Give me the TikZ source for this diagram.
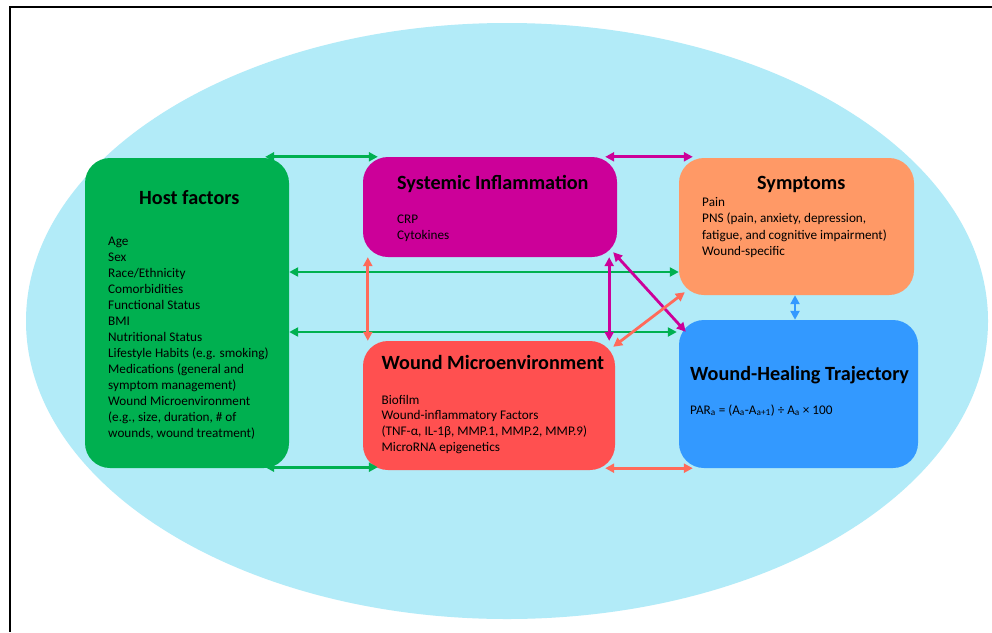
\documentclass[tikz,border=0pt]{standalone}
\usepackage{fontspec}
\setmainfont{Carlito}
\usetikzlibrary{arrows.meta,calc}
\definecolor{bgcyan}{HTML}{B2EBF8}
\definecolor{hostgreen}{HTML}{00B050}
\definecolor{simag}{HTML}{CC0099}
\definecolor{symorange}{HTML}{FF9966}
\definecolor{wmred}{HTML}{FF5050}
\definecolor{whtblue}{HTML}{3399FF}
\definecolor{salmon}{HTML}{FF6A5A}
\begin{document}
\begin{tikzpicture}[x=1pt,y=-1pt,
  box/.style={rounded corners=25pt, inner sep=0pt, draw=none},
  ttl/.style={font=\fontsize{20.2}{23}\selectfont\bfseries, inner sep=0pt, anchor=base west},
  body/.style={font=\fontsize{13.2}{16}\selectfont, inner sep=0pt, anchor=base west},
  arr/.style={line width=2.8pt, {Triangle[length=9pt,width=9pt]}-{Triangle[length=9pt,width=9pt]}}]
\useasboundingbox (0,0) rectangle (992,632);
\fill[white] (0,0) rectangle (992,632);
\fill[bgcyan] (507,321) ellipse [x radius=481pt, y radius=298pt];
\draw[line width=2pt] (992,7) -- (10,7) -- (10,632);

% boxes
\node[box, fill=hostgreen, minimum width=204pt, minimum height=310pt] (host) at (187,313) {};
\node[box, fill=simag, minimum width=254pt, minimum height=100pt] (si) at (490,207) {};
\node[box, fill=symorange, minimum width=235pt, minimum height=137pt] (sym) at (796.5,226.5) {};
\node[box, fill=wmred, minimum width=252pt, minimum height=129pt] (wm) at (489,405.5) {};
\node[box, fill=whtblue, minimum width=239pt, minimum height=148pt] (wht) at (798.5,394) {};

% titles
\node[ttl] (hostt) at (139,204) {Host factors};
\node[ttl] (sit) at (397,189.3) {Systemic Inflammation};
\node[ttl] (symt) at (757,189.3) {Symptoms};
\node[ttl] (wmt) at (381.5,369.3) {Wound Microenvironment};
\node[ttl] (whtt) at (690,380.7) {Wound-Healing Trajectory};

% body text
\foreach \t [count=\i] in {{Age},{Sex},{Race/Ethnicity},{Comorbidities},{Functional Status},{BMI},{Nutritional Status},{Lifestyle Habits (e.g. smoking)},{Medications (general and},{symptom management)},{Wound Microenvironment},{(e.g., size, duration, \# of},{wounds, wound treatment)}}
  \node[body] (hl\i) at (108,{245.7+16*(\i-1)}) {\t};
\foreach \t [count=\i] in {{CRP},{Cytokines}}
  \node[body] (sl\i) at (397,{223+16.3*(\i-1)}) {\t};
\foreach \t [count=\i] in {{Pain},{PNS (pain, anxiety, depression,},{fatigue, and cognitive impairment)},{Wound-specific}}
  \node[body] (yl\i) at (702,{206.7+16.2*(\i-1)}) {\t};
\foreach \t [count=\i] in {{Biofilm},{Wound-inflammatory Factors},{(TNF-α, IL-1β, MMP.1, MMP.2, MMP.9)},{MicroRNA epigenetics}}
  \node[body] (wl\i) at (381.5,{404+15.9*(\i-1)}) {\t};
\node[body] (par) at (690,414) {PAR\textsubscript{a} = (A\textsubscript{a}-A\textsubscript{a+1}) ÷ A\textsubscript{a} × 100};

% helper coordinates
\coordinate (y272) at (0,272);
\coordinate (y332) at (0,332);
\coordinate (x795) at (795,0);

% connectors
\draw[arr, hostgreen] ($(host.north east)+(-24,-1)$) -- ($(si.north west)+(15,0)$);
\draw[arr, hostgreen] (host.east |- y272) -- (sym.west |- y272);
\draw[arr, hostgreen] (host.east |- y332) -- ($(wht.west |- y332)+(-2,0)$);
\draw[arr, hostgreen] ($(host.south east)+(-24,-1)$) -- ($(wm.south west)+(15,-3)$);
\draw[arr, simag] ($(si.north east)+(-12,0)$) -- ($(sym.north west)+(14,-1)$);
\draw[arr, salmon] ($(si.south west)+(5,0)$) -- ($(wm.north west)+(5,0)$);
\draw[arr, simag] ($(si.south east)+(-8,0)$) -- ($(wm.north east)+(-6,0)$);
\draw[arr, simag] ($(si.south east)+(-4,-5)$) -- ($(wht.north west)+(7,12)$);
\draw[arr, salmon] ($(wm.north east)+(-2,6)$) -- ($(sym.south west)+(6,-3)$);
\draw[arr, salmon] ($(wm.south east)+(-10,-2)$) -- ($(wht.south west)+(14,0)$);
\draw[arr, whtblue] (sym.south -| x795) -- (wht.north -| x795);
\end{tikzpicture}
\end{document}
